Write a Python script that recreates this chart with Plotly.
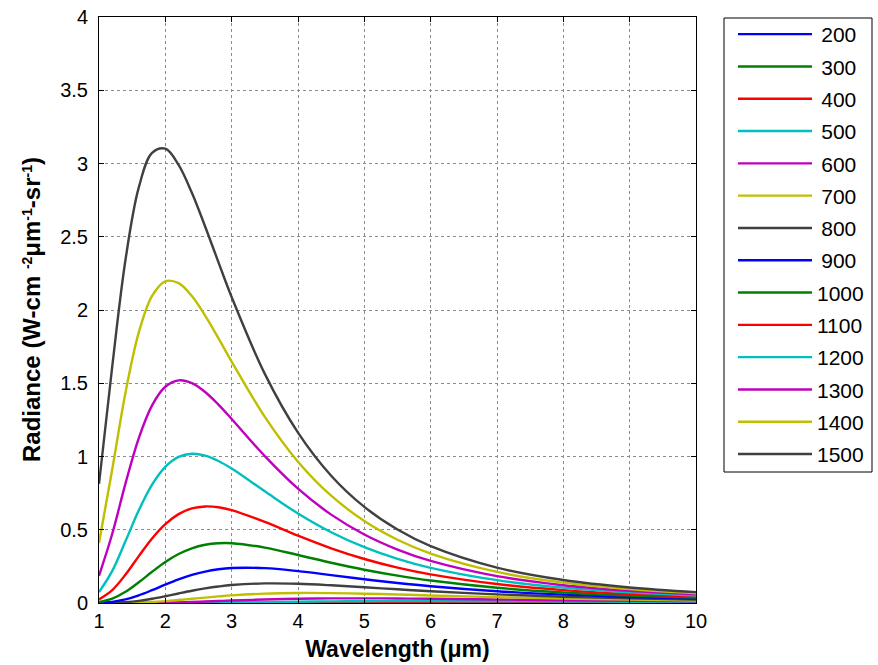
import plotly.graph_objects as go

# Wavelength samples (µm)
WL = [1.0, 1.2, 1.4, 1.6, 1.8, 2.0, 2.2, 2.4, 2.6, 2.8, 3.0, 3.5, 4.0, 4.5, 5.0, 5.5, 6.0, 7.0, 8.0, 9.0, 10.0]

# Radiance (W-cm^-2 µm^-1 sr^-1) per temperature
R200 = [0, 0, 0, 0, 0, 0, 0, 0, 0, 0, 0, 0, 0, 0, 0.000002, 0.000005, 0.00001, 0.000024, 0.000045, 0.000068, 0.00009]
R300 = [0, 0, 0, 0, 0, 0, 0, 0, 0, 0, 0.00001, 0.00003, 0.00007, 0.00015, 0.00026, 0.00039, 0.00052, 0.00075, 0.00091, 0.00098, 0.00099]
R400 = [0, 0, 0, 0, 0, 0.00001, 0.00002, 0.00005, 0.0001, 0.0002, 0.0003, 0.0008, 0.0014, 0.0022, 0.0029, 0.0034, 0.0038, 0.0042, 0.0041, 0.0038, 0.0034]
R500 = [0, 0, 0, 0.00002, 0.00007, 0.0002, 0.0005, 0.0009, 0.0016, 0.0024, 0.0033, 0.0061, 0.0087, 0.0108, 0.0121, 0.0127, 0.0128, 0.0118, 0.0102, 0.0086, 0.0071]
R600 = [0, 0.00001, 0.00008, 0.00035, 0.0010, 0.0023, 0.0043, 0.0068, 0.0099, 0.0132, 0.0166, 0.0240, 0.0291, 0.0315, 0.0318, 0.0306, 0.0287, 0.0238, 0.0191, 0.0151, 0.0119]
R700 = [0.00001, 0.0002, 0.0009, 0.0030, 0.0069, 0.0128, 0.0203, 0.0286, 0.0370, 0.0449, 0.0519, 0.0640, 0.0686, 0.0677, 0.0635, 0.0578, 0.0515, 0.0397, 0.0301, 0.0229, 0.0175]
R800 = [0.0002, 0.0015, 0.0058, 0.0149, 0.0289, 0.0463, 0.0651, 0.0833, 0.0994, 0.1125, 0.1224, 0.1338, 0.1312, 0.1208, 0.1074, 0.0935, 0.0805, 0.0588, 0.0429, 0.0316, 0.0236]
R900 = [0.0014, 0.0078, 0.0243, 0.0520, 0.0876, 0.1257, 0.1615, 0.1916, 0.2146, 0.2301, 0.2388, 0.2379, 0.2177, 0.1904, 0.1624, 0.1368, 0.1146, 0.0804, 0.0570, 0.0411, 0.0302]
R1000 = [0.0067, 0.0297, 0.0762, 0.1412, 0.2129, 0.2798, 0.3343, 0.3735, 0.3976, 0.4083, 0.4083, 0.3779, 0.3277, 0.2750, 0.2272, 0.1866, 0.1532, 0.1041, 0.0721, 0.0511, 0.0370]
R1100 = [0.0249, 0.0884, 0.1940, 0.3199, 0.4406, 0.5384, 0.6065, 0.6454, 0.6592, 0.6538, 0.6343, 0.5534, 0.4595, 0.3731, 0.3005, 0.2418, 0.1952, 0.1293, 0.0880, 0.0615, 0.0441]
R1200 = [0.0739, 0.2191, 0.4226, 0.6324, 0.8077, 0.9295, 0.9972, 1.0189, 1.0060, 0.9693, 0.9174, 0.7625, 0.6110, 0.4831, 0.3811, 0.3016, 0.2402, 0.1559, 0.1046, 0.0723, 0.0514]
R1300 = [0.1858, 0.4725, 0.8167, 1.1259, 1.3490, 1.4760, 1.5197, 1.5008, 1.4404, 1.3545, 1.2564, 1.0023, 0.7801, 0.6032, 0.4678, 0.3651, 0.2876, 0.1836, 0.1216, 0.0833, 0.0588]
R1400 = [0.4099, 0.9134, 1.4373, 1.8468, 2.0960, 2.1960, 2.1830, 2.0950, 1.9620, 1.8080, 1.6480, 1.2707, 0.9647, 0.7323, 0.5597, 0.4319, 0.3370, 0.2121, 0.1391, 0.0946, 0.0664]
R1500 = [0.8132, 1.6170, 2.3450, 2.8370, 3.0720, 3.1010, 2.9910, 2.8000, 2.5700, 2.3270, 2.0880, 1.5640, 1.1630, 0.8688, 0.6560, 0.5014, 0.3881, 0.2413, 0.1569, 0.1060, 0.0740]

TEMPS = ["200", "300", "400", "500", "600", "700", "800", "900", "1000", "1100", "1200", "1300", "1400", "1500"]
SERIES = [R200, R300, R400, R500, R600, R700, R800, R900, R1000, R1100, R1200, R1300, R1400, R1500]
COLORS = ["#0000FF", "#008000", "#FF0000", "#00BFBF", "#BF00BF", "#BFBF00", "#404040"] * 2

X_TICKS = [1, 2, 3, 4, 5, 6, 7, 8, 9, 10]
Y_TICKS = [0, 0.5, 1, 1.5, 2, 2.5, 3, 3.5, 4]
Y_TICK_TEXT = ["0", "0.5", "1", "1.5", "2", "2.5", "3", "3.5", "4"]

FONT = "Arial, Liberation Sans, sans-serif"

# plot-area geometry (px) used to express paper coordinates
W, H = 878, 665
L, R, T, B = 99, 182, 17, 62
PW, PH = W - L - R, H - T - B


def px_x(px):
    return (px - L) / PW


def px_y(py):
    return (H - B - py) / PH


fig = go.Figure()
for name, vals, col in zip(TEMPS, SERIES, COLORS):
    label = name if len(name) == 4 else "\u2009" + name
    fig.add_trace(go.Scatter(
        x=WL, y=vals, mode="lines", name=label, legendgroup=name,
        line=dict(color=col, width=2.4, shape="spline", smoothing=1.0),
    ))

axis_common = dict(
    showline=True, linecolor="black", linewidth=1, mirror="allticks",
    ticks="inside", ticklen=5, tickcolor="black", tickwidth=1,
    showgrid=True, gridcolor="#8c8c8c", griddash="dot", gridwidth=1,
    zeroline=False, automargin=False,
    tickfont=dict(family=FONT, size=20, color="black"),
)

fig.update_layout(
    template="none",
    width=W, height=H,
    margin=dict(l=L, r=R, t=T, b=B, autoexpand=False),
    paper_bgcolor="white", plot_bgcolor="white",
    font=dict(family=FONT, color="black"),
    xaxis=dict(range=[1, 10], tickvals=X_TICKS, ticklabelstandoff=0,
               title=dict(text="<b>Wavelength (μm)</b>", font=dict(family=FONT, size=23), standoff=9),
               **axis_common),
    yaxis=dict(range=[0, 4], tickvals=Y_TICKS, ticktext=Y_TICK_TEXT, ticklabelstandoff=6,
               **axis_common),
    legend=dict(x=px_x(733), y=px_y(14), xanchor="left", yanchor="top",
                borderwidth=0, bgcolor="rgba(0,0,0,0)", maxheight=620,
                font=dict(family=FONT, size=21), itemwidth=74,
                traceorder="grouped", tracegroupgap=2),
    showlegend=True,
)

# legend frame
fig.add_shape(type="rect", xref="paper", yref="paper",
              x0=px_x(724), x1=px_x(872), y0=px_y(472), y1=px_y(18),
              line=dict(color="black", width=1), fillcolor="rgba(0,0,0,0)", layer="below")

fig.add_annotation(
    text="<b>Radiance (W-cm <span style='font-size:20px'><sup>-2</sup></span>μm"
         "<span style='font-size:20px'><sup>-1</sup></span>-sr"
         "<span style='font-size:20px'><sup>-1</sup></span>)</b>",
    xref="paper", yref="paper", x=px_x(31), y=0.5,
    xanchor="center", yanchor="middle", textangle=-90, showarrow=False,
    font=dict(family=FONT, size=24, color="black"),
)

fig.write_html("out.html", config={"displayModeBar": False},
               post_script="document.body.style.margin='0';")
